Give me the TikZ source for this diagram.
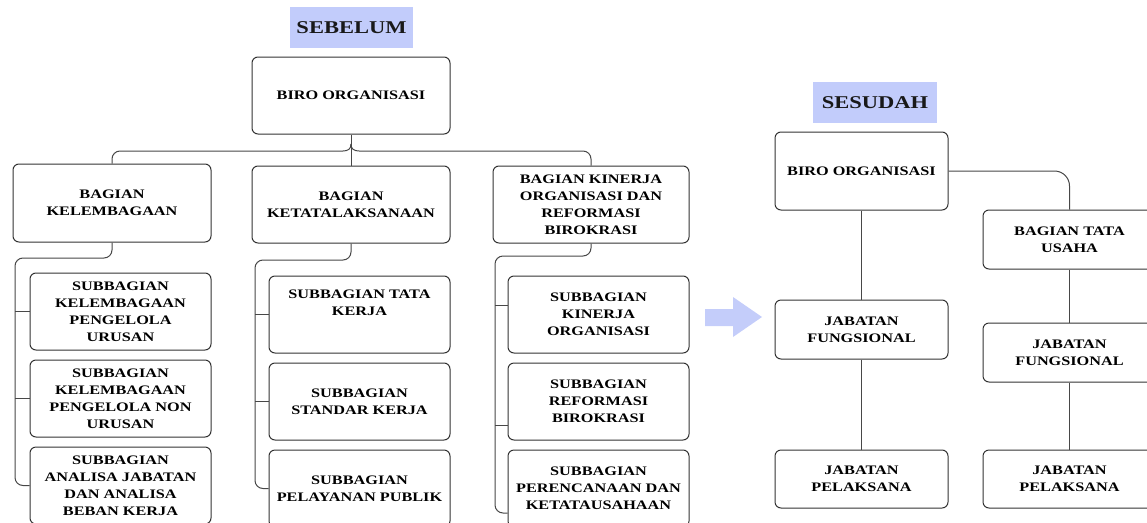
\documentclass[tikz,border=0pt]{standalone}
\usepackage{fontspec}
\setmainfont{Liberation Serif}[FakeStretch=1.25]
\begin{document}
\begin{tikzpicture}[x=1pt,y=-1pt,
  obox/.style={draw=black!80, line width=1pt, rounded corners=6pt, fill=white,
    align=center, inner sep=0pt, font=\fontsize{13}{17}\selectfont\bfseries, text=black},
  lab/.style={fill=labblue, inner sep=0pt, font=\fontsize{18}{20}\selectfont\bfseries, text=black!90},
  conn/.style={draw=black!72, line width=1pt}]
\definecolor{labblue}{HTML}{C2CCFB}
\definecolor{arrblue}{HTML}{C4CDFA}
\useasboundingbox (0,0) rectangle (1147,522);
\clip (0,0) rectangle (1147,522);

% ---------- SEBELUM ----------
\node[lab, minimum width=123pt, minimum height=41pt] (sebelum) at (351.5,27.5) {SEBELUM};
\node[obox, minimum width=198pt, minimum height=77pt] (biroL) at (351,95.5) {BIRO ORGANISASI};
\node[obox, minimum width=198pt, minimum height=78pt] (kel) at (112,203) {BAGIAN\\KELEMBAGAAN};
\node[obox, minimum width=198pt, minimum height=77pt] (ket) at (351,204.5) {BAGIAN\\KETATALAKSANAAN};
\node[obox, minimum width=196pt, minimum height=77pt] (kin) at (591,204.5) {BAGIAN KINERJA\\ORGANISASI DAN\\REFORMASI\\BIROKRASI};

\node[obox, minimum width=181pt, minimum height=77pt] (L1) at (120.5,311.5) {SUBBAGIAN\\KELEMBAGAAN\\PENGELOLA\\URUSAN};
\node[obox, minimum width=181pt, minimum height=77pt] (L2) at (120.5,398.5) {SUBBAGIAN\\KELEMBAGAAN\\PENGELOLA NON\\URUSAN};
\node[obox, minimum width=181pt, minimum height=77pt] (L3) at (120.5,485.5) {SUBBAGIAN\\ANALISA JABATAN\\DAN ANALISA\\BEBAN KERJA};

\node[obox, minimum width=181pt, minimum height=77pt] (M1) at (359.5,314.5) {SUBBAGIAN TATA\\KERJA\\[6pt]};
\node[obox, minimum width=181pt, minimum height=77pt] (M2) at (359.5,401.5) {SUBBAGIAN\\STANDAR KERJA};
\node[obox, minimum width=181pt, minimum height=77pt] (M3) at (359.5,488.5) {SUBBAGIAN\\PELAYANAN PUBLIK};

\node[obox, minimum width=181pt, minimum height=77pt] (R1) at (598.5,314.5) {SUBBAGIAN\\KINERJA\\ORGANISASI};
\node[obox, minimum width=181pt, minimum height=77pt] (R2) at (598.5,401.5) {SUBBAGIAN\\REFORMASI\\BIROKRASI};
\node[obox, minimum width=181pt, minimum height=77pt] (R3) at (598.5,488.5) {SUBBAGIAN\\PERENCANAAN DAN\\KETATAUSAHAAN};

% top bus
\coordinate (hop) at (351,144);
\draw[conn] (biroL.south) -- (ket.north);
\draw[conn, rounded corners=8pt] (kel.north) -- (112,151) -- (343,151);
\draw[conn] (343,151) .. controls (348,151) and (351,149) .. (hop);
\draw[conn, rounded corners=8pt] (kin.north) -- (591,151) -- (359,151);
\draw[conn] (359,151) .. controls (354,151) and (351,149) .. (hop);

% left subtree
\draw[conn, rounded corners=8pt] (kel.south) -- (112,258) -- (15,258) -- (15,485.5) -- (L3.west);
\draw[conn] (L1.west) -- ++(-15,0);
\draw[conn] (L2.west) -- ++(-15,0);
% middle subtree
\draw[conn, rounded corners=8pt] (ket.south) -- (351,260) -- (255,260) -- (255,488.5) -- (M3.west);
\draw[conn] (M1.west) -- ++(-14,0);
\draw[conn] (M2.west) -- ++(-14,0);
% right subtree
\draw[conn, rounded corners=8pt] (kin.south) -- (591,256) -- (495,256) -- (495,513) -- ([yshift=-24.5pt]R3.west);
\draw[conn] ([yshift=9.5pt]R1.west) -- ++(-13,0);
\draw[conn] ([yshift=-23.5pt]R2.west) -- ++(-13,0);

% ---------- arrow ----------
\fill[arrblue] (705,309) -- (733,309) -- (733,297) -- (762,317) -- (733,337) -- (733,326) -- (705,326) -- cycle;

% ---------- SESUDAH ----------
\node[lab, minimum width=124pt, minimum height=41pt] (sesudah) at (875,102.5) {SESUDAH};
\node[obox, minimum width=173pt, minimum height=78pt] (biroR) at (861.5,171) {BIRO ORGANISASI};
\node[obox, minimum width=173pt, minimum height=59pt] (jfL) at (861.5,329.5) {JABATAN\\FUNGSIONAL};
\node[obox, minimum width=173pt, minimum height=58pt] (jpL) at (861.5,479) {JABATAN\\PELAKSANA};
\node[obox, minimum width=173pt, minimum height=59pt] (btu) at (1069.5,239.5) {BAGIAN TATA\\USAHA};
\node[obox, minimum width=173pt, minimum height=59pt] (jfR) at (1069.5,352.5) {JABATAN\\FUNGSIONAL};
\node[obox, minimum width=173pt, minimum height=58pt] (jpR) at (1069.5,479) {JABATAN\\PELAKSANA};

\draw[conn] (biroR.south) -- (jfL.north);
\draw[conn] (jfL.south) -- (jpL.north);
\draw[conn, rounded corners=15pt] (biroR.east) -- (btu.north |- biroR.east) -- (btu.north);
\draw[conn] (btu.south) -- (jfR.north);
\draw[conn] (jfR.south) -- (jpR.north);
\end{tikzpicture}
\end{document}
